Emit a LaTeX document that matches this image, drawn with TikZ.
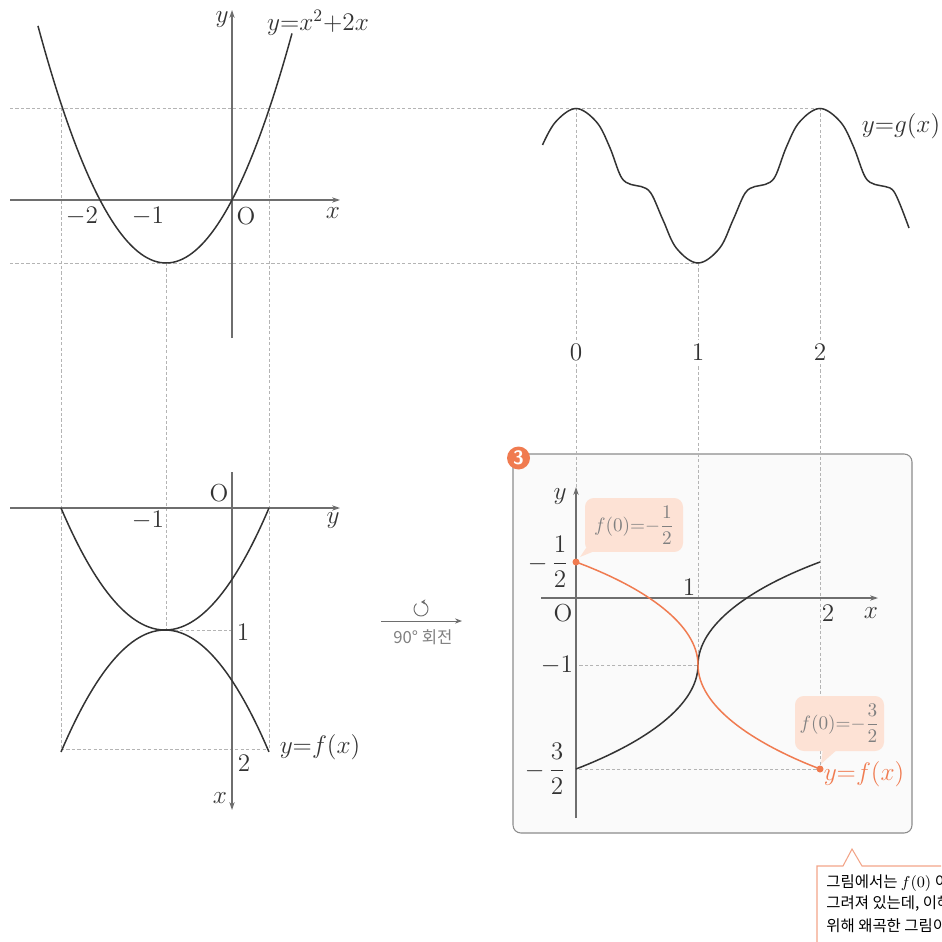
\documentclass[tikz,border=0pt]{standalone}
\usepackage{amsmath}
\usepackage{fontspec}
\newfontfamily\cjk{Noto Sans CJK KR}
\usetikzlibrary{arrows.meta,positioning}

\definecolor{inkgray}{HTML}{333333}
\definecolor{axisgray}{HTML}{6E6E6E}
\definecolor{guidegray}{HTML}{B4B4B4}
\definecolor{accent}{HTML}{F07B50}
\definecolor{callfill}{HTML}{FDE2D5}
\definecolor{calltext}{HTML}{808080}
\definecolor{boxfill}{HTML}{FAFAFA}
\definecolor{boxgray}{HTML}{8C8C8C}
\definecolor{noteline}{HTML}{F2A488}

\tikzset{
  axisline/.style={axisgray, line width=0.6pt, -{Stealth[length=4.5pt,width=3pt]}},
  guideline/.style={guidegray, line width=0.45pt, dash pattern=on 1.8pt off 1.3pt},
  curveline/.style={inkgray, line width=0.85pt},
  lbl/.style={inner sep=0pt, text=inkgray},
  callout/.style={fill=callfill, rounded corners=5pt, text=calltext, inner sep=0pt,
    font=\fontsize{10.5}{12}\selectfont},
  notetext/.style={inner sep=0pt, anchor=west, text=black, font=\cjk\fontsize{8.8}{10}\selectfont},
}

\begin{document}
\begin{tikzpicture}[x=0.02cm, y=-0.02cm, font=\fontsize{14}{16}\selectfont]
  \useasboundingbox (0,0) rectangle (941,942);
  \clip (0,0) rectangle (941,942);

  \draw[boxgray, fill=boxfill, line width=0.6pt, rounded corners=4.5pt] (513,454) rectangle (912,833);

  % guide lines
  \draw[guideline] (10,108) -- (820,108);
  \draw[guideline] (10,263) -- (698,263);
  \foreach \gx in {61,269} \draw[guideline] (\gx,108) -- (\gx,749);
  \draw[guideline] (166,263) -- (166,630) -- (232,630);
  \draw[guideline] (61,749) -- (269,749);
  \draw[guideline] (576,108) -- (576,490);
  \draw[guideline] (698,263) -- (698,665) -- (576,665);
  \draw[guideline] (820,108) -- (820,769) -- (576,769);

  % y = x^2+2x
  \draw[axisline] (10,200) -- (340,200);
  \draw[axisline] (232,338) -- (232,10);
  \draw[curveline] plot[domain=-2.94:0.91, samples=80] ({232+66*\x},{200-63*((\x)*(\x)+2*\x)});
  \node[lbl] (yA) at (222,20) {$y$};
  \node[lbl] (eqA) at (318,23) {$y{=}x^2{+}2x$};
  \node[lbl] (xA) at (333,213) {$x$};
  \node[lbl] (oA) at (246,216) {O};
  \node[lbl] (mtwoA) at (82,216) {$-2$};
  \node[lbl] (moneA) at (148,216) {$-1$};

  % rotated graph
  \draw[axisline] (10,508) -- (340,508);
  \draw[axisline] (232,472) -- (232,810);
  \draw[curveline] plot[domain=-1:1, samples=60] ({165+104*\x},{630-122*(\x)*(\x)});
  \draw[curveline] plot[domain=-1:1, samples=60] ({165+104*\x},{630+122*(\x)*(\x)});
  \node[lbl] (oB) at (219,493) {O};
  \node[lbl] (moneB) at (148,520) {$-1$};
  \node[lbl] (yB) at (333,521) {$y$};
  \node[lbl] (oneB) at (243,632) {$1$};
  \node[lbl] (twoB) at (244,763) {$2$};
  \node[lbl] (xB) at (220,798) {$x$};
  \node[lbl] (eqB) at (320,747) {$y{=}f(x)$};

  % y = g(x)
  \draw[curveline] plot[smooth, tension=0.6] coordinates {
    (542.5,145) (555.5,122) (576,108.5) (596.5,122) (609.5,146.7) (621,176.7)
    (631,184.5) (641,186.5) (651,193.3) (663,220) (676.5,248.3) (698,263)
    (719.5,248.3) (733,220) (745,193.3) (755,186.5) (765,184.5) (775,176.7)
    (786.5,146.7) (799.5,122) (820,108.5) (840.5,122) (853.5,146.7) (865,176.7)
    (875,184.5) (885,186.5) (895,193.3) (909,228)};
  \node[lbl] (eqG) at (901,126) {$y{=}g(x)$};
  \foreach \t/\px in {0/576,1/698,2/820}
    \node[lbl, fill=white, inner sep=2pt] (tick\t) at (\px,352) {$\t$};

  % rotation arrow
  \coordinate (rotL) at (381,621);
  \coordinate (rotR) at (462,621);
  \coordinate (rotc) at (421,609);
  \draw[axisgray, line width=0.5pt, -{Stealth[length=4pt,width=3pt]}] (rotL) -- (rotR);
  \draw[axisgray, line width=0.55pt, -{Stealth[length=2.5pt,width=3pt]}] (rotc) ++(-130:7) arc (-130:-450:7);
  \node[text=calltext, inner sep=0pt, font=\cjk\fontsize{9.5}{11}\selectfont] (rotlbl) at (423,637) {90° 회전};

  % box 3
  \node[circle, fill=accent, text=white, inner sep=0pt, minimum size=0.46cm,
    font=\sffamily\bfseries\fontsize{11}{12}\selectfont] (badge) at (518.5,458) {3};
  \draw[axisline] (541,598) -- (878,598);
  \draw[axisline] (576,818) -- (576,487);
  \coordinate (dotA) at (576,562);
  \coordinate (dotB) at (820,769);
  \coordinate (cross) at (698,665);
  \draw[curveline] (576,769) .. controls (646,742) and (698,705) .. (cross)
    .. controls (698,625) and (750,588) .. (820,562);
  \draw[accent, line width=0.85pt] (dotA) .. controls (646,588) and (698,625) .. (cross)
    .. controls (698,705) and (750,742) .. (dotB);
  \fill[accent] (dotA) circle (3.5);
  \fill[accent] (dotB) circle (3.5);
  \node[lbl] (yC) at (560,497) {$y$};
  \node[lbl] (oC) at (563,613) {O};
  \node[lbl] (oneC) at (689,587) {$1$};
  \node[lbl] (twoC) at (828,613) {$2$};
  \node[lbl] (xC) at (871,613) {$x$};
  \node[lbl] (moneC) at (557,665) {$-1$};
  \node[lbl] (mhalfC) at (548,562) {$-\,\dfrac{1}{2}$};
  \node[lbl] (mthreeC) at (545,769) {$-\,\dfrac{3}{2}$};
  \node[lbl, text=accent] (eqC) at (864,774) {$y{=}f(x)$};

  \fill[callfill] (586,548) -- (602,548) -- (580,557) -- cycle;
  \node[callout, minimum width=1.96cm, minimum height=1.08cm] (callA) at (634,525) {$f(0){=}{-}\dfrac{1}{2}$};
  \fill[callfill] (823,748) -- (839,748) -- (821,764) -- cycle;
  \node[callout, minimum width=1.78cm, minimum height=1.1cm] (callB) at (839.5,723.5) {$f(0){=}{-}\dfrac{3}{2}$};

  % note
  \draw[noteline, line width=0.6pt] (817,960) -- (817,866) -- (843,866) -- (852,849) -- (862,866) -- (960,866);
  \node[notetext] (noteA) at (826,883) {그림에서는 $f(0)$ 이};
  \node[notetext] (noteB) at (826,904) {그려져 있는데, 이해};
  \node[notetext] (noteC) at (826,926) {위해 왜곡한 그림이};
\end{tikzpicture}
\end{document}
